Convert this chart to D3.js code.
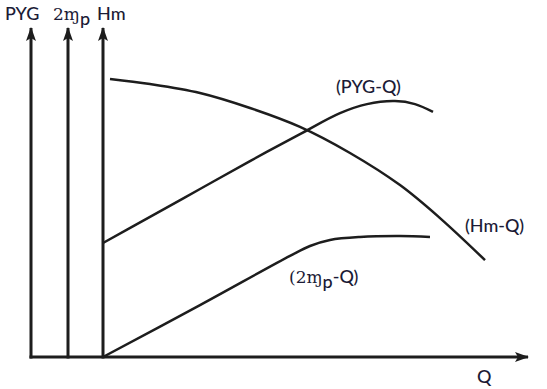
<!DOCTYPE html>
<html><head><meta charset="utf-8">
<script src="https://cdn.jsdelivr.net/npm/d3@7"></script>
<style>html,body{margin:0;padding:0;background:#fff;}svg{display:block;}</style>
</head><body>
<script>
// Data (abstract units: Q on x, value on y)
const hmQ   = [1.75, 11.75, 24.25, 36.75, 49.25, 61.75, 74.25, 84.25, 95.5];
const hmV   = [92.7, 91.0, 88.0, 83.0, 76.7, 68.0, 57.3, 46.3, 32.3];
const pygQ  = [0, 11.75, 24.25, 36.75, 49.25, 59.25, 66, 73, 78, 82.5];
const pygV  = [38, 46.7, 56, 65.3, 74.3, 81.3, 84.3, 85.3, 84.3, 81.7];
const etaQ  = [0, 24.25, 46.75, 51.75, 56.75, 64.25, 74.25, 81.75];
const etaV  = [0, 17.3, 33.7, 37, 39, 40, 40.3, 40];
const axisQ = [-18, -8.75, 0];           // vertical axes positions
const axisNames = ["PYG", "2ɱ", "Hm"];
const curveLabels = ["(PYG-Q)", "(Hm-Q)", "(2ɱ", "Q"];

const W = 547, H = 389;
const x = d3.scaleLinear().domain([0, 100]).range([103, 503]);
const y = d3.scaleLinear().domain([0, 100]).range([357, 57]);
const ink = "#1d1d1d", txt = "#1b1b36";
const font = "Lato, 'Open Sans', sans-serif";

const svg = d3.select("body").append("svg").attr("width", W).attr("height", H);
const defs = svg.append("defs");
defs.append("marker").attr("id", "arr").attr("viewBox", "0 0 14 10")
  .attr("refX", 13).attr("refY", 5).attr("markerWidth", 14).attr("markerHeight", 10)
  .attr("markerUnits", "userSpaceOnUse").attr("orient", "auto")
  .append("path").attr("d", "M0,0 L14,5 L0,10 L3,5 Z").attr("fill", ink);

// vertical axes
axisQ.forEach(q => {
  svg.append("line").attr("x1", x(q)).attr("x2", x(q)).attr("y1", y(0)+1.5).attr("y2", y(109.7))
    .attr("stroke", ink).attr("stroke-width", 3).attr("marker-end", "url(#arr)");
});
// horizontal axis
svg.append("line").attr("x1", x(-18)-1.5).attr("x2", x(106.25)).attr("y1", y(0)).attr("y2", y(0))
  .attr("stroke", ink).attr("stroke-width", 3).attr("marker-end", "url(#arr)");

const line = d3.line().x(d => x(d[0])).y(d => y(d[1])).curve(d3.curveCatmullRom.alpha(0.5));
[[hmQ, hmV], [pygQ, pygV], [etaQ, etaV]].forEach(([qs, vs]) => {
  svg.append("path").attr("d", line(qs.map((q, i) => [q, vs[i]])))
    .attr("fill", "none").attr("stroke", ink).attr("stroke-width", 2.5);
});

function label(xp, yp, parts, anchor) {
  const t = svg.append("text").attr("x", xp).attr("y", yp).attr("fill", txt)
    .attr("font-family", font).attr("font-size", 18).attr("font-weight", 500)
    .attr("text-anchor", anchor || "start");
  parts.forEach(p => {
    const s = t.append("tspan").text(p.t);
    if (p.serif) s.attr("font-family", "'DejaVu Serif', 'Liberation Serif', serif").attr("font-size", 17).attr("font-weight", 400);
    if (p.dy) s.attr("dy", p.dy);
    if (p.fs) s.attr("font-size", p.fs);
  });
}
// axis names
label(5, 20, [{t: axisNames[0]}]);
label(53, 20, [{t: "2", serif: true}, {t: "ɱ", serif: true}, {t: "p", dy: 5}]);
label(97, 20, [{t: axisNames[2]}]);
// curve labels
label(336, 93, [{t: curveLabels[0]}]);
label(465, 232, [{t: curveLabels[1]}]);
label(289, 283, [{t: "(2", serif: true}, {t: "ɱ", serif: true}, {t: "p", dy: 5}, {t: "-Q)", dy: -5}]);
label(477, 383, [{t: curveLabels[3]}]);
</script>
</body></html>
